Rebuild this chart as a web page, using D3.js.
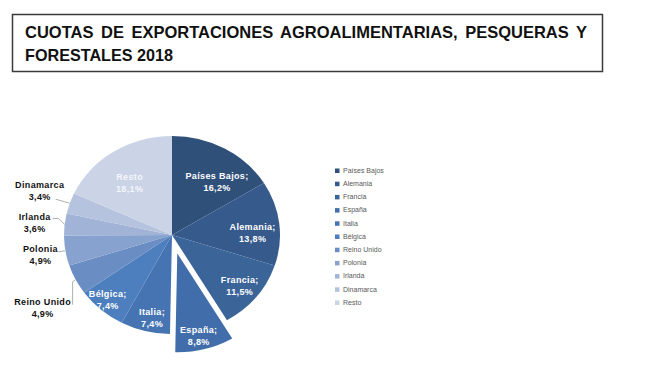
<!DOCTYPE html>
<html>
<head>
<meta charset="utf-8">
<script src="https://cdn.jsdelivr.net/npm/d3@7/dist/d3.min.js"></script>
<style>
  body { margin: 0; background: #fff; }
  text { font-family: "Liberation Sans", Arial, sans-serif; }
</style>
</head>
<body>
<svg id="chart" width="650" height="373"></svg>
<script>
// datos del gráfico
var titleLines = ["CUOTAS DE EXPORTACIONES AGROALIMENTARIAS, PESQUERAS Y", "FORESTALES 2018"];
var paises = ["Países Bajos", "Alemania", "Francia", "España", "Italia", "Bélgica",
              "Reino Unido", "Polonia", "Irlanda", "Dinamarca", "Resto"];
var cuotas = [16.2, 13.8, 11.5, 8.8, 7.4, 7.4, 4.9, 4.9, 3.6, 3.4, 18.1];
var destacado = "España";

// colores de cada porción
var palette = ["#2f5079", "#365a8b", "#3b6499", "#416eaa", "#4674b3", "#4d7ebd",
               "#6a8dc4", "#87a2ce", "#a1b3d7", "#b5c3df", "#cbd3e6"];

// ajustes de las etiquetas (no son datos)
var insideNudge = {
    "Países Bajos": [4, 15], "Alemania": [-3, 8], "Francia": [2, 3], "España": [0, 9],
    "Italia": [1, 9], "Bélgica": [-9, 7], "Resto": [3, 14]
};
var outsideLayout = {
    "Dinamarca":   { off: [-30, -12], leader: [[0, 0], [-14, -4]] },
    "Irlanda":     { off: [-30, -1],  leader: [[0, 0], [-6, -6], [-12, -6]] },
    "Polonia":     { off: [-25, 5],   leader: [[0, 0], [-7, 1]] },
    "Reino Unido": { off: [-33, 29],  leader: [[0, 0], [-3, 2], [-3, 25]] }
};

var svg = d3.select("#chart");
var fmt = function(v) { return d3.format(".1f")(v).replace(".", ",") + "%"; };

// título en recuadro
svg.append("rect")
    .attr("x", 12.5).attr("y", 14.5)
    .attr("width", 590).attr("height", 57)
    .attr("fill", "#fff")
    .attr("stroke", "#3a3a3a")
    .attr("stroke-width", 1.5);

var t1 = svg.append("text")
    .attr("x", 25).attr("y", 38)
    .attr("font-size", 16.5).attr("font-weight", "bold").attr("fill", "#111")
    .text(titleLines[0]);
// justificado: repartir el espacio sobrante entre las palabras
var w1 = t1.node().getComputedTextLength();
var nSpaces = titleLines[0].split(" ").length - 1;
t1.attr("word-spacing", Math.max(0, (562 - w1) / nSpaces));

svg.append("text")
    .attr("x", 25).attr("y", 61)
    .attr("font-size", 16.5).attr("font-weight", "bold").attr("fill", "#111")
    .attr("textLength", 148).attr("lengthAdjust", "spacingAndGlyphs")
    .text(titleLines[1]);

// tarta
var cx = 172, cy = 235, R = 99, sx = 108 / 99, explode = 19;
var datos = paises.map(function(p, i) { return { pais: p, valor: cuotas[i], color: palette[i] }; });

var pie = d3.pie().sort(null).value(function(d) { return d.valor; });
var arcs = pie(datos);
var arc = d3.arc().innerRadius(0).outerRadius(R);

function point(a, r) {
    return [cx + sx * r * Math.sin(a), cy - r * Math.cos(a)];
}
function offsetOf(d) {
    if (d.data.pais !== destacado) return [0, 0];
    var m = (d.startAngle + d.endAngle) / 2;
    return [sx * explode * Math.sin(m), -explode * Math.cos(m)];
}

var pieG = svg.append("g")
    .attr("transform", "translate(" + cx + "," + cy + ") scale(" + sx + ",1)");

pieG.selectAll("path.slice")
    .data(arcs)
  .enter().append("path")
    .attr("class", "slice")
    .attr("d", arc)
    .attr("fill", function(d) { return d.data.color; })
    .attr("transform", function(d) {
        var o = offsetOf(d);
        return "translate(" + (o[0] / sx) + "," + o[1] + ")";
    });

// etiquetas
var labelG = svg.append("g");
arcs.forEach(function(d) {
    var m = (d.startAngle + d.endAngle) / 2;
    var o = offsetOf(d);
    var out = outsideLayout[d.data.pais];
    var pos, fill, lines;
    if (out) {
        var e = point(m, R);
        pos = [e[0] + out.off[0], e[1] + out.off[1]];
        fill = "#111";
        lines = [d.data.pais, fmt(d.data.valor)];
        labelG.append("path")
            .attr("d", d3.line()(out.leader.map(function(p) { return [e[0] + p[0], e[1] + p[1]]; })))
            .attr("fill", "none")
            .attr("stroke", "#a6a6a6")
            .attr("stroke-width", 0.9);
    } else {
        var c = point(m, R * 0.78);
        var n = insideNudge[d.data.pais] || [0, 0];
        pos = [c[0] + o[0] + n[0], c[1] + o[1] + n[1]];
        fill = d.data.pais === "Resto" ? "#f4f6fb" : "#fff";
        lines = [d.data.pais + (d.data.pais === "Resto" ? "" : ";"), fmt(d.data.valor)];
    }
    lines.forEach(function(t, k) {
        labelG.append("text")
            .attr("x", pos[0])
            .attr("y", pos[1] + (k === 0 ? -6 : 6))
            .attr("text-anchor", "middle")
            .attr("dominant-baseline", "middle")
            .attr("font-family", "DejaVu Sans, sans-serif")
            .attr("font-weight", "bold")
            .attr("font-size", 9)
            .attr("letter-spacing", 0.35)
            .attr("fill", fill)
            .text(t);
    });
});

// leyenda
var legend = svg.append("g").attr("transform", "translate(335,171)");
var li = legend.selectAll("g.item")
    .data(datos)
  .enter().append("g")
    .attr("class", "item")
    .attr("transform", function(d, i) { return "translate(0," + (i * 13.2) + ")"; });
li.append("rect")
    .attr("x", 0).attr("y", -2.5)
    .attr("width", 4.5).attr("height", 4.5)
    .attr("fill", function(d) { return d.color; });
li.append("text")
    .attr("x", 8).attr("y", 0)
    .attr("dominant-baseline", "middle")
    .attr("font-size", 7)
    .attr("fill", "#595959")
    .text(function(d) { return d.pais; });
</script>
</body>
</html>
